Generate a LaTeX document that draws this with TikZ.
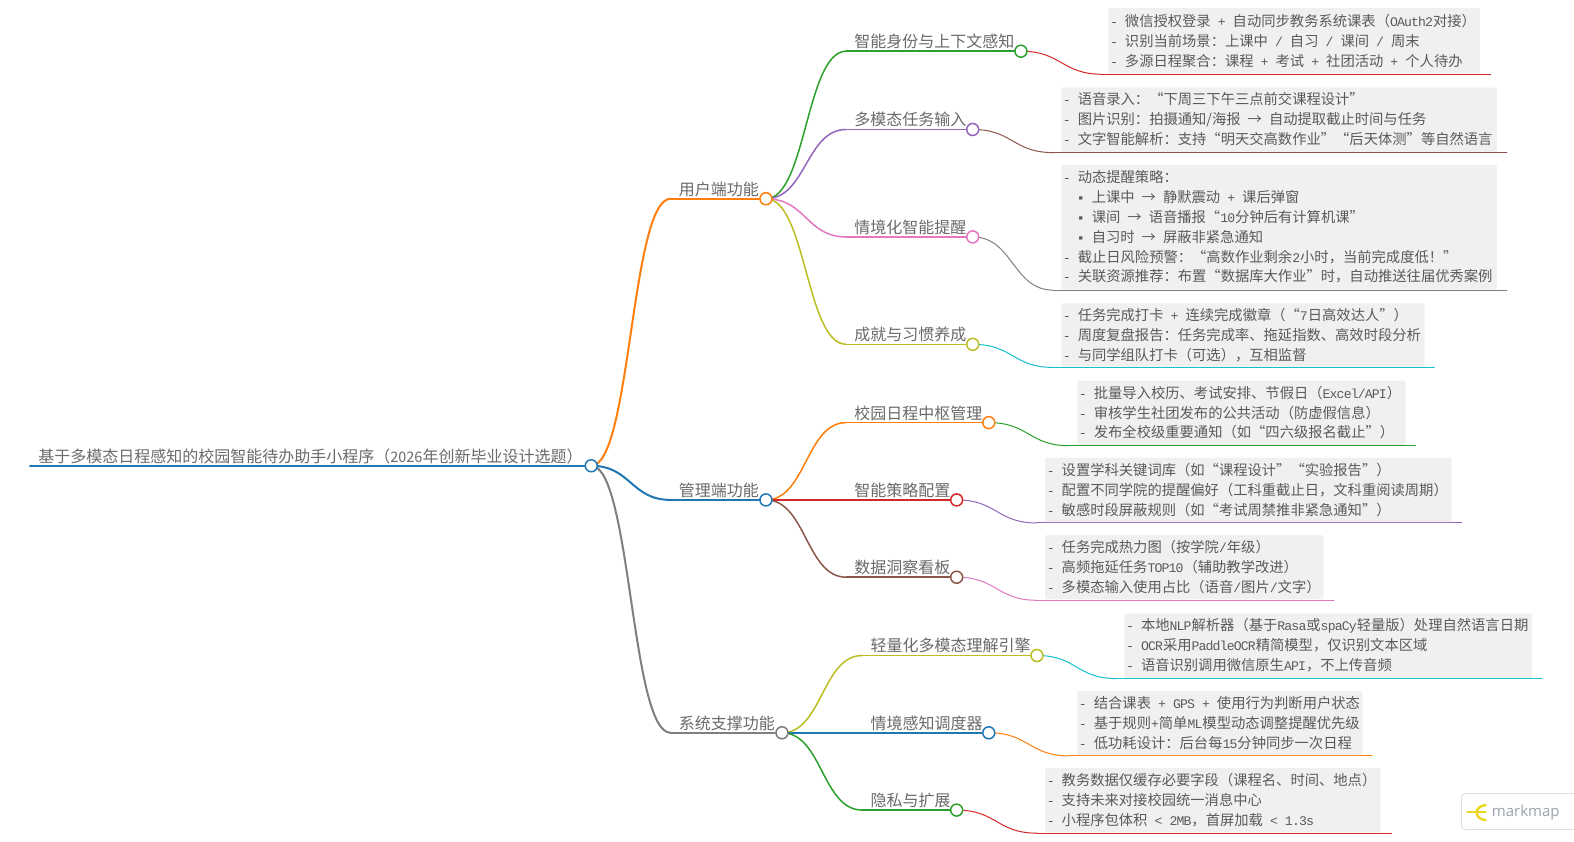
\documentclass[tikz,border=0pt]{standalone}
\usepackage{fontspec}
\setmainfont{Noto Sans CJK SC}
\newfontfamily\lat[Scale=0.92,LetterSpace=-6.5]{Liberation Mono}
\newfontfamily\brand{Open Sans}
\newcommand{\m}[1]{{\lat #1}}
\usetikzlibrary{calc,backgrounds}
\definecolor{cBlue}{HTML}{1F77B4}
\definecolor{cOrange}{HTML}{FF7F0E}
\definecolor{cGreen}{HTML}{2CA02C}
\definecolor{cRed}{HTML}{D62728}
\definecolor{cPurple}{HTML}{9467BD}
\definecolor{cBrown}{HTML}{8C564B}
\definecolor{cPink}{HTML}{E377C2}
\definecolor{cGray}{HTML}{7F7F7F}
\definecolor{cOlive}{HTML}{BCBD22}
\definecolor{cCyan}{HTML}{17BECF}
\definecolor{boxFill}{HTML}{F0F0F0}
\definecolor{textMain}{HTML}{6A6A6A}
\definecolor{textLeaf}{HTML}{5A5A5A}
\definecolor{logoYellow}{HTML}{EBD71C}
\definecolor{logoText}{HTML}{9AA3AE}
\definecolor{logoEdge}{HTML}{DDDDDD}
\tikzset{
  dot/.style={circle,fill=white,draw=#1,line width=1.5pt,minimum size=12pt,inner sep=0pt},
  blabel/.style={anchor=base west,inner sep=0pt,text=textMain,font=\fontsize{16}{20}\selectfont},
  leafbox/.style={fill=boxFill,rounded corners=1.5pt,anchor=north west,inner sep=0pt},
  leaftext/.style={anchor=west,inner sep=0pt,align=left,text=textLeaf,font=\fontsize{14.3}{19.92}\selectfont},
  link/.style={line width=#1,line cap=round}
}
% branch: id, parent, start x, end x, y, width, colour, label
\newcommand{\branch}[8]{%
  \coordinate (s#1) at (#3,#5);
  \node[dot=#7] (c#1) at (#4,#5) {};
  \node[blabel] (t#1) at (#3+8,#5-3.6) {\fontsize{16}{20}\selectfont #8};
  \begin{scope}[on background layer]
    \draw[link=#6pt,#7] (s#1) -- (c#1);
    \draw[link=#6pt,#7] let \p1=(c#2),\p2=(s#1) in
      (\p1) .. controls ({0.5*\x1+0.5*\x2},\y1) and ({0.5*\x1+0.5*\x2},\y2) .. (\p2);
  \end{scope}
}
% leaf: id, colour, x1, y1, x2, y2, curve end x, line end x, text
\newcommand{\leaf}[9]{%
  \node[leafbox,minimum width={(#5-#3)*1.0038pt},minimum height={(#6-#4)*1.0038pt}] (b#1) at (#3,#4) {};
  \coordinate (s#1) at (#7,#6+1);
  \coordinate (e#1) at (#8,#6+1);
  \node[leaftext] (x#1) at ([xshift=1.6pt,yshift=0.2pt]b#1.west) {#9};
  \begin{scope}[on background layer]
    \draw[link=1pt,#2] (s#1) -- (e#1);
    \draw[link=1pt,#2] let \p1=(c#1),\p2=(s#1) in
      (\p1) .. controls ({0.5*\x1+0.5*\x2},\y1) and ({0.5*\x1+0.5*\x2},\y2) .. (\p2);
  \end{scope}
}
\begin{document}
\begin{tikzpicture}[x=1.0038pt,y=-1.0038pt]
\useasboundingbox (0,0) rectangle (1568,838);
\begin{scope}[on background layer]
  \fill[white] (0,0) rectangle (1568,838);
\end{scope}
% root
\coordinate (sR) at (30,464);
\node[dot=cBlue] (cR) at (589,464) {};
\node[blabel] (tR) at (38,460.4) {基于多模态日程感知的校园智能待办助手小程序（{\fontsize{14.5}{20}\selectfont 2026}年创新毕业设计选题）};
\begin{scope}[on background layer]
  \draw[link=2.5pt,cBlue] (sR) -- (cR);
\end{scope}
% level 1
\branch{A}{R}{668}{763}{198}{2}{cOrange}{用户端功能}
\branch{B}{R}{668}{763}{498}{2}{cBlue}{管理端功能}
\branch{C}{R}{668}{779}{730}{2}{cGray}{系统支撑功能}
% level 2
\branch{1}{A}{843}{1017}{51}{1.5}{cGreen}{智能身份与上下文感知}
\branch{2}{A}{843}{969}{129}{1.5}{cPurple}{多模态任务输入}
\branch{3}{A}{843}{969}{236}{1.5}{cPink}{情境化智能提醒}
\branch{4}{A}{843}{969}{343}{1.5}{cOlive}{成就与习惯养成}
\branch{5}{B}{843}{985}{421}{1.5}{cOrange}{校园日程中枢管理}
\branch{6}{B}{843}{953}{498}{1.5}{cRed}{智能策略配置}
\branch{7}{B}{843}{953}{575}{1.5}{cBrown}{数据洞察看板}
\branch{8}{C}{859}{1033}{653}{1.5}{cOlive}{轻量化多模态理解引擎}
\branch{9}{C}{859}{985}{730}{1.5}{cBlue}{情境感知调度器}
\branch{0}{C}{859}{953}{807}{1.5}{cGreen}{隐私与扩展}
% leaves
\leaf{1}{cRed}{1104}{8}{1474}{73}{1098}{1485}{\m{- }微信授权登录\m{ + }自动同步教务系统课表（\m{OAuth2}对接）\\\m{- }识别当前场景：上课中\m{ / }自习\m{ / }课间\m{ / }周末\\\m{- }多源日程聚合：课程\m{ + }考试\m{ + }社团活动\m{ + }个人待办}
\leaf{2}{cBrown}{1057}{87}{1491}{151}{1049}{1501}{\m{- }语音录入：“下周三下午三点前交课程设计”\\\m{- }图片识别：拍摄通知/海报\m{ }→\m{ }自动提取截止时间与任务\\\m{- }文字智能解析：支持“明天交高数作业”“后天体测”等自然语言}
\leaf{3}{cGray}{1057}{164}{1491}{288}{1049}{1501}{\m{- }动态提醒策略：\\\hspace*{14pt}\m{▪ }上课中\m{ }→\m{ }静默震动\m{ + }课后弹窗\\\hspace*{14pt}\m{▪ }课间\m{ }→\m{ }语音播报“\m{10}分钟后有计算机课”\\\hspace*{14pt}\m{▪ }自习时\m{ }→\m{ }屏蔽非紧急通知\\\m{- }截止日风险预警：“高数作业剩余\m{2}小时，当前完成度低！”\\\m{- }关联资源推荐：布置“数据库大作业”时，自动推送往届优秀案例}
\leaf{4}{cCyan}{1057}{302}{1419}{365}{1049}{1429}{\m{- }任务完成打卡\m{ + }连续完成徽章（“\m{7}日高效达人”）\\\m{- }周度复盘报告：任务完成率、拖延指数、高效时段分析\\\m{- }与同学组队打卡（可选），互相监督}
\leaf{5}{cGreen}{1073}{379}{1400}{443}{1065}{1410}{\m{- }批量导入校历、考试安排、节假日（\m{Excel/API}）\\\m{- }审核学生社团发布的公共活动（防虚假信息）\\\m{- }发布全校级重要通知（如“四六级报名截止”）}
\leaf{6}{cPurple}{1041}{456}{1446}{520}{1033}{1456}{\m{- }设置学科关键词库（如“课程设计”“实验报告”）\\\m{- }配置不同学院的提醒偏好（工科重截止日，文科重阅读周期）\\\m{- }敏感时段屏蔽规则（如“考试周禁推非紧急通知”）}
\leaf{7}{cPink}{1041}{533}{1318}{597}{1033}{1329}{\m{- }任务完成热力图（按学院\m{/}年级）\\\m{- }高频拖延任务\m{TOP10}（辅助教学改进）\\\m{- }多模态输入使用占比（语音\m{/}图片\m{/}文字）}
\leaf{8}{cCyan}{1120}{611}{1526}{675}{1112}{1536}{\m{- }本地\m{NLP}解析器（基于\m{Rasa}或\m{spaCy}轻量版）处理自然语言日期\\\m{- OCR}采用\m{PaddleOCR}精简模型，仅识别文本区域\\\m{- }语音识别调用微信原生\m{API}，不上传音频}
\leaf{9}{cOrange}{1073}{688}{1357}{752}{1065}{1367}{\m{- }结合课表\m{ + GPS + }使用行为判断用户状态\\\m{- }基于规则\m{+}简单\m{ML}模型动态调整提醒优先级\\\m{- }低功耗设计：后台每\m{15}分钟同步一次日程}
\leaf{0}{cRed}{1041}{765}{1375}{829}{1033}{1386}{\m{- }教务数据仅缓存必要字段（课程名、时间、地点）\\\m{- }支持未来对接校园统一消息中心\\\m{- }小程序包体积\m{ < 2MB}，首屏加载\m{ < 1.3s}}
% markmap badge
\node[draw=logoEdge,fill=white,line width=0.8pt,rounded corners=4pt,anchor=north west,inner sep=0pt,minimum width=120pt,minimum height=36pt] (badge) at (1455.5,790) {};
\draw[logoYellow,line width=2.4pt,line cap=round] (1462,809) -- (1480,809);
\draw[logoYellow,line width=2.4pt,line cap=round] (1480,802) .. controls (1468,803) and (1468,816) .. (1480,817);
\node[anchor=west,inner sep=0pt,text=logoText,font=\brand\fontsize{15}{18}\selectfont] (brandname) at (1486,809) {markmap};
\end{tikzpicture}
\end{document}
